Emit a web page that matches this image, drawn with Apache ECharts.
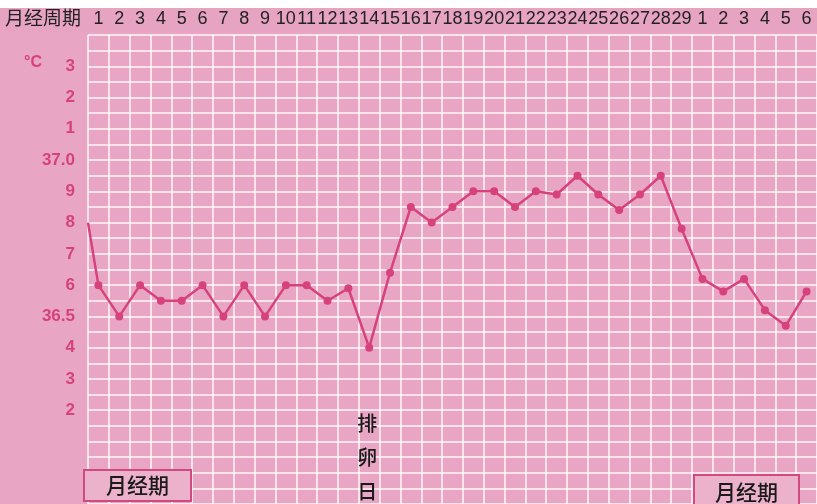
<!DOCTYPE html>
<html>
<head>
<meta charset="utf-8">
<script src="https://cdn.jsdelivr.net/npm/echarts@6/dist/echarts.min.js"></script>
<style>
  html, body { margin: 0; padding: 0; background: #fff; }
  #chart { width: 817px; height: 504px; }
</style>
</head>
<body>
<div id="chart"></div>
<script>
// 周期内的日子（29天 + 下个周期前6天）
const days = ['1', '2', '3', '4', '5', '6', '7', '8', '9', '10', '11', '12', '13', '14', '15',
    '16', '17', '18', '19', '20', '21', '22', '23', '24', '25', '26', '27', '28', '29',
    '1', '2', '3', '4', '5', '6'];
// 基础体温（°C）
const temps = [36.6, 36.5, 36.6, 36.55, 36.55, 36.6, 36.5, 36.6, 36.5, 36.6, 36.6, 36.55, 36.59,
    36.4, 36.64, 36.85, 36.8, 36.85, 36.9, 36.9, 36.85, 36.9, 36.89, 36.95, 36.89, 36.84, 36.89,
    36.95, 36.78, 36.62, 36.58, 36.62, 36.52, 36.47, 36.58];
// 第1天之前，图表左边缘的读数
const startTemp = 36.8;
// 纵轴刻度
const tempTicks = [36.2, 36.3, 36.4, 36.5, 36.6, 36.7, 36.8, 36.9, 37.0, 37.1, 37.2, 37.3];
const tempTickLabels = ['2', '3', '4', '36.5', '6', '7', '8', '9', '37.0', '1', '2', '3'];
const ovulationDay = 14;

const pink = '#d6427c';
const bg = '#e9a6c4';

let chart = echarts.init(document.getElementById('chart'));

let lineData = [{ value: [0.5, startTemp], symbol: 'none' }];
temps.forEach(function (t, i) {
    lineData.push([i + 1, t]);
});

let tickMap = {};
tempTicks.forEach(function (t, i) {
    tickMap[Math.round(t * 100)] = tempTickLabels[i];
});

// 底部“月经期”方框
function periodBox(id, left, top, w, h) {
    return {
        id: id, type: 'group', left: left, top: top,
        children: [
            { type: 'rect', z: 20, shape: { x: 0, y: 0, width: w, height: h }, style: { fill: '#ecb1cb', stroke: '#cf4a80', lineWidth: 2 } },
            { type: 'text', z: 21, x: w / 2, y: h / 2, style: { text: '月经期', fontSize: 21, fontWeight: 500, fill: '#1a1a1a', align: 'center', verticalAlign: 'middle', fontFamily: 'Noto Sans CJK SC' } }
        ]
    };
}

chart.setOption({
    backgroundColor: bg,
    animation: false,
    grid: {
        left: 88,
        top: 35,
        width: 732.5,
        height: 474
    },
    xAxis: [{
        type: 'value',
        min: 0.5,
        max: 35.5,
        interval: 1,
        axisLine: { show: false },
        axisTick: { show: false },
        axisLabel: { show: false },
        splitLine: { lineStyle: { color: 'rgba(255,255,255,0.9)', width: 1.5 } }
    }, {
        type: 'category',
        position: 'top',
        data: days,
        boundaryGap: true,
        axisLine: { show: false },
        axisTick: { show: false },
        splitLine: { show: false },
        axisLabel: {
            interval: 0,
            margin: 7,
            color: '#222',
            fontSize: 18,
            fontFamily: 'Liberation Sans'
        }
    }],
    yAxis: {
        type: 'value',
        min: 35.9,
        max: 37.4,
        interval: 0.05,
        axisLine: { show: false },
        axisTick: { show: false },
        splitLine: { lineStyle: { color: 'rgba(255,255,255,0.9)', width: 1.5 } },
        axisLabel: {
            margin: 13,
            color: pink,
            fontSize: 17,
            fontWeight: 'bold',
            fontFamily: 'Liberation Sans',
            formatter: function (v) {
                return tickMap[Math.round(v * 100)] || '';
            }
        }
    },
    series: [{
        type: 'line',
        data: lineData,
        symbol: 'circle',
        symbolSize: 8,
        lineStyle: { color: pink, width: 2.5 },
        itemStyle: { color: pink }
    }],
    graphic: [
        { id: 'topWhite', type: 'rect', shape: { x: 0, y: 0, width: 817, height: 8 }, style: { fill: '#fff' }, z: 10 },
        { id: 'header', type: 'rect', shape: { x: 0, y: 8, width: 817, height: 24 }, style: { fill: '#e7a3c2' }, z: -1, silent: true },
        {
            id: 'headerTitle', type: 'text', left: 5, top: 8, z: 10,
            style: { text: '月经周期', fontSize: 19, fill: '#222', fontFamily: 'Noto Sans CJK SC' }
        },
        {
            id: 'unit', type: 'text', left: 24, top: 55, z: 10,
            style: { text: '°C', fontSize: 16, fontWeight: 'bold', fill: pink, fontFamily: 'Liberation Sans' }
        },
        periodBox('period1', 83, 469, 107, 31),
        periodBox('period2', 693, 474, 105, 34)
    ]
});

// 排卵日标注，放在排卵那一天的下方
let ovX = chart.convertToPixel({ xAxisIndex: 0 }, ovulationDay);
chart.setOption({
    graphic: [{
        id: 'ovulation', type: 'text', x: ovX - 2, y: 406, z: 10,
        style: {
            text: '排\n卵\n日', fontSize: 20, fontWeight: 500, lineHeight: 34, fill: '#1a1a1a',
            align: 'center', fontFamily: 'Noto Sans CJK SC'
        }
    }]
});
</script>
</body>
</html>
